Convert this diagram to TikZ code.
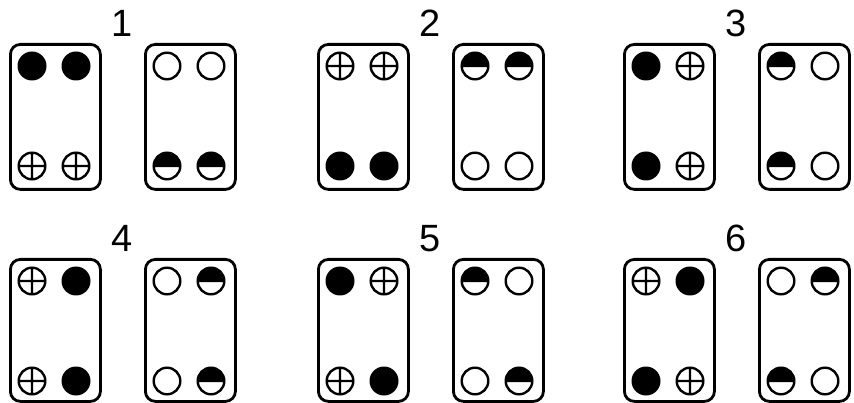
\documentclass[tikz,border=0pt]{standalone}
\usepackage{fontspec}
\setmainfont{Liberation Sans}
\tikzset{
  boxst/.style={draw, line width=2.8pt, rounded corners=10pt, minimum width=90pt, anchor=north west, inner sep=0pt},
  ring/.style={line width=2.4pt},
  numst/.style={font=\fontsize{38}{38}\selectfont, inner sep=0pt},
  pics/F/.style={code={\fill (0,0) circle (14.5);}},
  pics/O/.style={code={\draw[ring] (0,0) circle (13.3);}},
  pics/X/.style={code={\draw[ring] (0,0) circle (13.3) (-13.3,0)--(13.3,0) (0,-13.3)--(0,13.3);}},
  pics/H/.style={code={\fill (-13.3,0) arc[start angle=180,end angle=360,radius=13.3] -- cycle; \draw[ring] (0,0) circle (13.3) (-13.3,0)--(13.3,0);}},
}
\newcommand\platepair[5]{%
  \node[boxst, minimum height=#4] (#1L) at (#2,#3) {};
  \node[boxst, minimum height=#4] (#1R) at (#2+135,#3) {};
  \node[numst] (#1n) at (#2+113,#3-19.5) {#5};
}
\newcommand\dotset[9]{%
  \pic at ([shift={(23,23)}]#1L.north west) {#2};
  \pic at ([shift={(67,23)}]#1L.north west) {#3};
  \pic at ([shift={(23,123)}]#1L.north west) {#4};
  \pic at ([shift={(67,123)}]#1L.north west) {#5};
  \pic at ([shift={(23,23)}]#1R.north west) {#6};
  \pic at ([shift={(67,23)}]#1R.north west) {#7};
  \pic at ([shift={(23,123)}]#1R.north west) {#8};
  \pic at ([shift={(67,123)}]#1R.north west) {#9};
}
\begin{document}
\begin{tikzpicture}[x=1pt,y=-1pt]
  \useasboundingbox (0,0) rectangle (854,403);
  \platepair{a}{9}{43}{145}{1}
  \dotset{a}{F}{F}{X}{X}{O}{O}{H}{H}
  \platepair{b}{317}{43}{145}{2}
  \dotset{b}{X}{X}{F}{F}{H}{H}{O}{O}
  \platepair{c}{623}{43}{145}{3}
  \dotset{c}{F}{X}{F}{X}{H}{O}{H}{O}
  \platepair{d}{9}{258}{142}{4}
  \dotset{d}{X}{F}{X}{F}{O}{H}{O}{H}
  \platepair{e}{317}{258}{142}{5}
  \dotset{e}{F}{X}{X}{F}{H}{O}{O}{H}
  \platepair{f}{623}{258}{142}{6}
  \dotset{f}{X}{F}{F}{X}{O}{H}{H}{O}
\end{tikzpicture}
\end{document}
